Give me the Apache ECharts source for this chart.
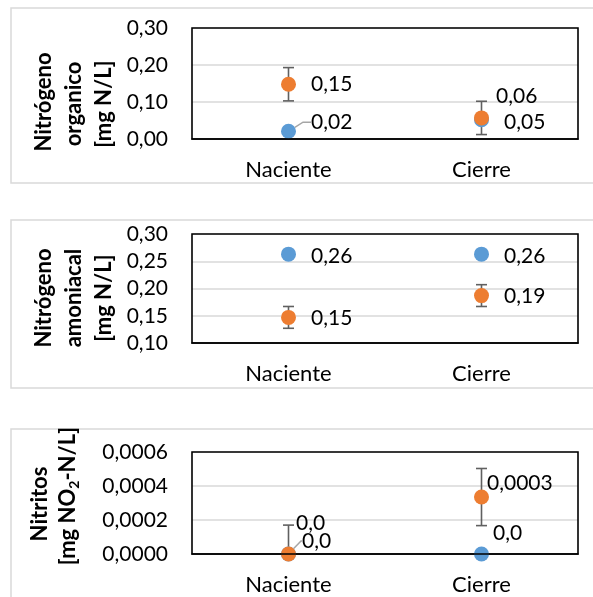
<!DOCTYPE html>
<html>
<head>
<meta charset="utf-8">
<script src="https://cdn.jsdelivr.net/npm/echarts@6/dist/echarts.min.js"></script>
<style>
html,body{margin:0;padding:0;background:#fff;}
#c{width:593px;height:597px;}
</style>
</head>
<body>
<div id="c"></div>
<script>
// ---- data ----
const categories = ['Naciente', 'Cierre'];

// Nitrógeno orgánico [mg N/L]
const orgBlue = [0.021, 0.052];
const orgOrange = [0.148, 0.057];
const orgOrangeErr = [0.045, 0.045];
const orgBlueLabels = ['0,02', '0,05'];
const orgOrangeLabels = ['0,15', '0,06'];
const orgTicks = ['0,00', '0,10', '0,20', '0,30'];

// Nitrógeno amoniacal [mg N/L]
const amoBlue = [0.263, 0.263];
const amoOrange = [0.147, 0.187];
const amoOrangeErr = [0.02, 0.02];
const amoBlueLabels = ['0,26', '0,26'];
const amoOrangeLabels = ['0,15', '0,19'];
const amoTicks = ['0,10', '0,15', '0,20', '0,25', '0,30'];

// Nitritos [mg NO2-N/L]
const nitBlue = [0, 0];
const nitOrange = [0, 0.000335];
const nitOrangeErr = [0.00017, 0.000168];
const nitBlueLabels = ['0,0', '0,0'];
const nitOrangeLabels = ['0,0', '0,0003'];
const nitTicks = ['0,0000', '0,0002', '0,0004', '0,0006'];

// ---- styling ----
const FONT = 'Lato, "Open Sans", sans-serif';
const BLUE = '#5B9BD5', ORANGE = '#ED7D31', ERR = '#606060';
const GL = 192, GW = 386;

const panels = [
  {top: 28, height: 111, min: 0, max: 0.30, interval: 0.10, ticks: orgTicks,
   blue: orgBlue, orange: orgOrange, err: orgOrangeErr, bl: orgBlueLabels, ol: orgOrangeLabels,
   blueOff: [{dx: 0, dy: -9, line: 8}, {dx: 0, dy: 2}],
   orangeOff: [{dx: 0, dy: 0}, {dx: -8, dy: -22}]},
  {top: 234, height: 109, min: 0.10, max: 0.30, interval: 0.05, ticks: amoTicks,
   blue: amoBlue, orange: amoOrange, err: amoOrangeErr, bl: amoBlueLabels, ol: amoOrangeLabels,
   blueOff: [{dx: 0, dy: 2}, {dx: 0, dy: 2}],
   orangeOff: [{dx: 0, dy: 1}, {dx: 0, dy: 1}]},
  {top: 452, height: 102, min: 0, max: 0.0006, interval: 0.0002, ticks: nitTicks,
   blue: nitBlue, orange: nitOrange, err: nitOrangeErr, bl: nitBlueLabels, ol: nitOrangeLabels,
   blueOff: [{dx: -9, dy: -13, line: 1}, {dx: -11, dy: -21}],
   orangeOff: [{dx: -15, dy: -31}, {dx: -17, dy: -14}]}
];

const grids = [], xAxes = [], yAxes = [], series = [], boxes = [];
panels.forEach((p, i) => {
  grids.push({left: GL, width: GW, top: p.top, height: p.height, show: false, outerBoundsMode: 'none'});
  boxes.push({type: 'rect', z: 100, silent: true, shape: {x: GL, y: p.top, width: GW, height: p.height},
    style: {fill: 'none', stroke: '#000', lineWidth: 1.6}});
  xAxes.push({type: 'category', gridIndex: i, data: categories, boundaryGap: true,
    axisLine: {show: true, lineStyle: {color: '#000', width: 1.6}}, axisTick: {show: false},
    axisLabel: {fontFamily: FONT, fontSize: 22, color: '#000', margin: 20}, splitLine: {show: false}});
  yAxes.push({type: 'value', gridIndex: i, min: p.min, max: p.max, interval: p.interval,
    axisLine: {show: false}, axisTick: {show: false},
    axisLabel: {fontFamily: FONT, fontSize: 21, color: '#000', margin: 24,
      formatter: (v, idx) => p.ticks[idx]},
    splitLine: {show: true, lineStyle: {color: '#D9D9D9', width: 1.5}}});
  // error bars
  series.push({type: 'custom', xAxisIndex: i, yAxisIndex: i, z: 2, silent: true,
    data: p.orange.map((v, k) => [k, Math.max(p.min, v - p.err[k]), v + p.err[k]]),
    renderItem: function (params, api) {
      const x = api.value(0), lo = api.value(1), hi = api.value(2);
      const a = api.coord([x, hi]), b = api.coord([x, lo]);
      const hw = 5.5;
      const st = {stroke: ERR, lineWidth: 1.6};
      const ch = [
        {type: 'line', shape: {x1: a[0], y1: a[1], x2: b[0], y2: b[1]}, style: st},
        {type: 'line', shape: {x1: a[0] - hw, y1: a[1], x2: a[0] + hw, y2: a[1]}, style: st}
      ];
      if (lo > p.min) ch.push({type: 'line', shape: {x1: b[0] - hw, y1: b[1], x2: b[0] + hw, y2: b[1]}, style: st});
      return {type: 'group', children: ch};
    }});
  const mk = (vals, labels, offs, color, z) => ({
    type: 'scatter', xAxisIndex: i, yAxisIndex: i, z: z, symbol: 'circle', symbolSize: 15,
    itemStyle: {color: color, opacity: 1},
    label: {show: true, position: 'right', distance: 15, fontFamily: FONT, fontSize: 21, color: '#000',
      formatter: (q) => labels[q.dataIndex]},
    labelLayout: (q) => ({dx: offs[q.dataIndex].dx, dy: offs[q.dataIndex].dy}),
    labelLine: {show: false},
    emphasis: {disabled: true},
    data: vals.map((v, k) => offs[k].line ?
      {value: [k, v], labelLine: {show: true, length2: offs[k].line, lineStyle: {color: '#A6A6A6', width: 1.5}}} :
      {value: [k, v]})
  });
  series.push(mk(p.blue, p.bl, p.blueOff, BLUE, 3));
  series.push(mk(p.orange, p.ol, p.orangeOff, ORANGE, 4));
});

const frame = (y, h) => ({type: 'rect', shape: {x: 11, y: y, width: 600, height: h}, silent: true,
  style: {fill: 'none', stroke: '#D9D9D9', lineWidth: 1.5}});
const title = (x, y, text, rich) => ({type: 'text', x: x, y: y, rotation: Math.PI / 2, silent: true,
  style: {text: text, fontFamily: FONT, fontSize: 22, fontWeight: 'bold', fill: '#000',
    align: 'center', verticalAlign: 'middle', rich: rich}});

const subRich = {
  n: {fontFamily: FONT, fontSize: 22, fontWeight: 'bold', lineHeight: 26, verticalAlign: 'middle'},
  s: {fontFamily: FONT, fontSize: 14, fontWeight: 'bold', lineHeight: 13, verticalAlign: 'bottom'}
};

const option = {
  animation: false,
  backgroundColor: '#fff',
  grid: grids, xAxis: xAxes, yAxis: yAxes, series: series,
  graphic: [
    frame(8, 175), frame(220, 168), frame(429, 200),
    title(44, 102, 'Nitrógeno'), title(74, 104, 'organico'), title(104, 104, '[mg N/L]'),
    title(44, 298, 'Nitrógeno'), title(74, 298, 'amoniacal'), title(104, 298, '[mg N/L]'),
    title(40, 504, 'Nitritos'),
    title(68, 496, '{n|[mg NO}{s|2}{n|-N/L]}', subRich)
  ].concat(boxes)
};

const chart = echarts.init(document.getElementById('c'), null, {renderer: 'canvas'});
chart.setOption(option);
</script>
</body>
</html>
